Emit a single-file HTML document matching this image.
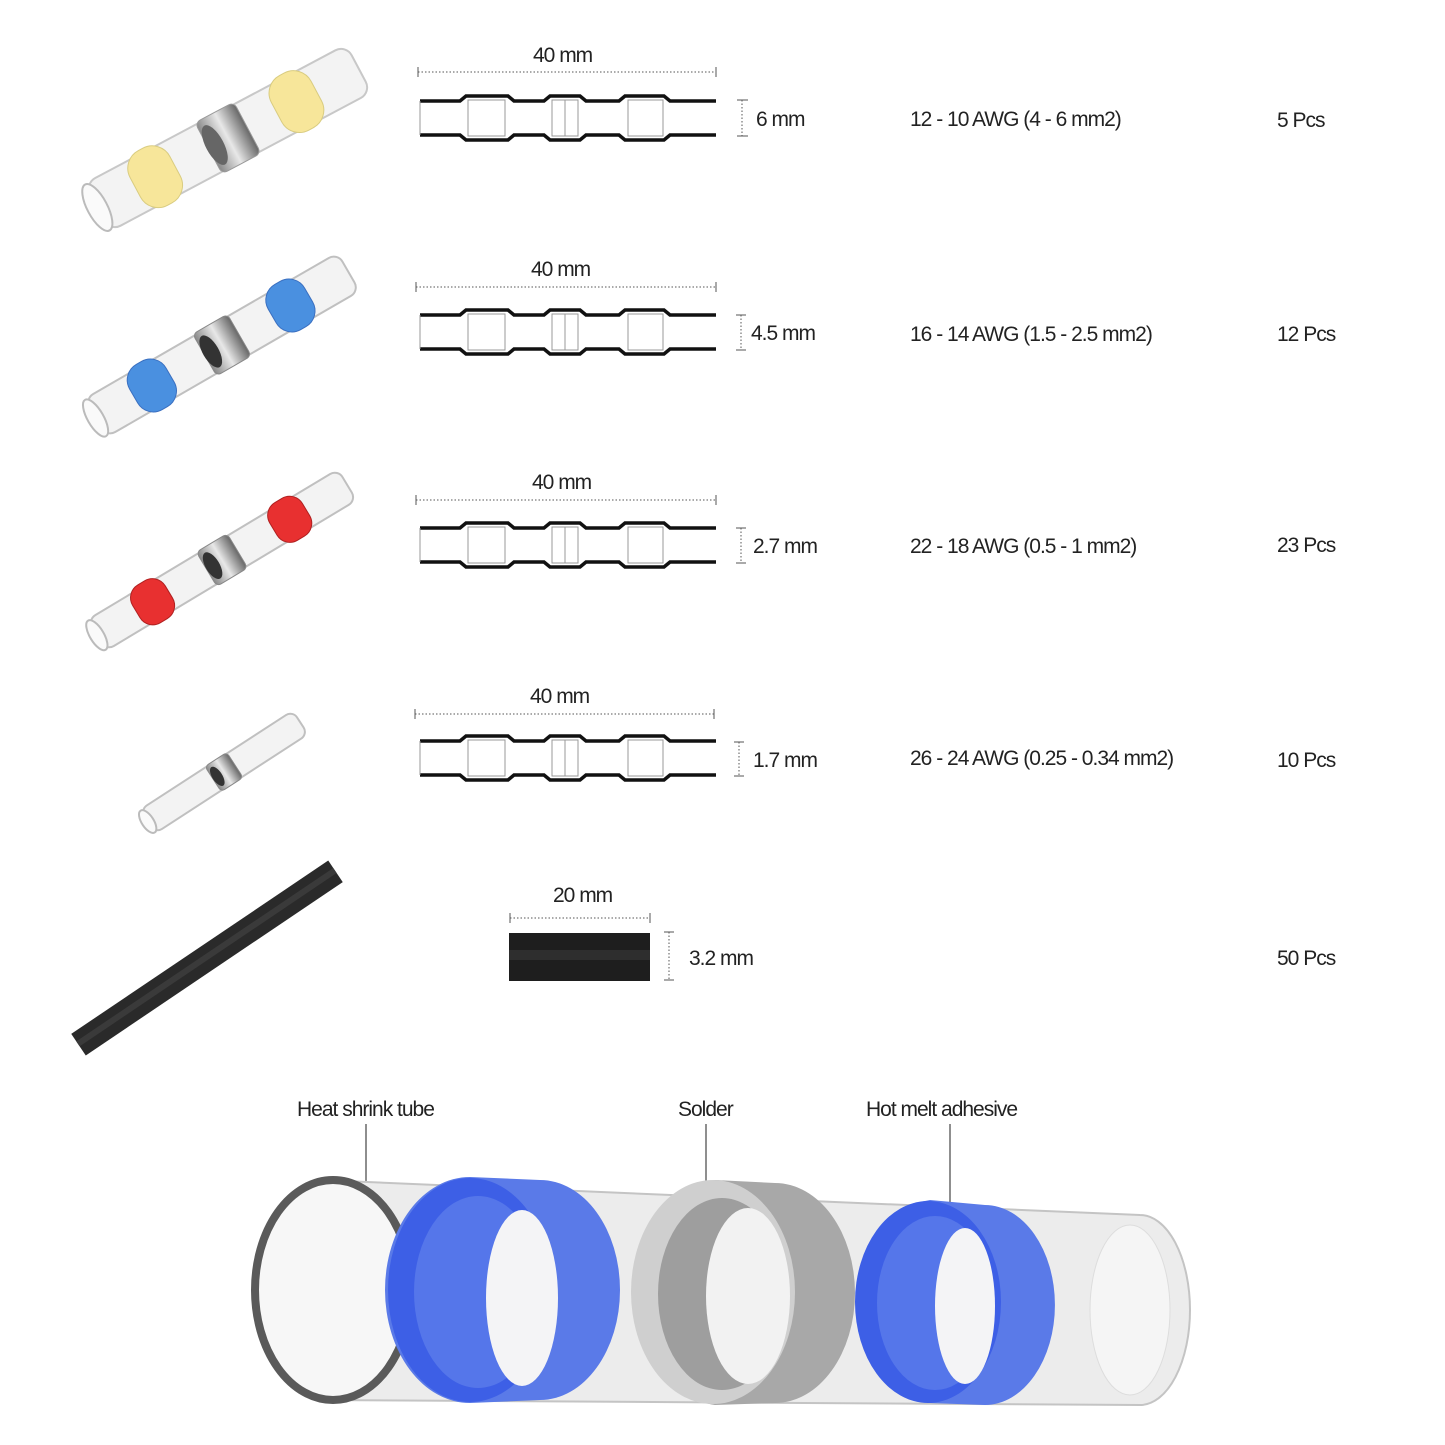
<!DOCTYPE html>
<html><head><meta charset="utf-8"><style>
html,body{margin:0;padding:0;background:#fff;}
svg{display:block;}
text{font-family:"Liberation Sans",sans-serif;font-size:21px;fill:#222;letter-spacing:-1px;}
</style></head><body>
<svg width="1445" height="1445" viewBox="0 0 1445 1445" xmlns="http://www.w3.org/2000/svg">
<defs>
<g id="diag">
 <path d="M0,-17 H40 L46,-22 H88 L94,-17 H124 L130,-22 H160 L166,-17 H199 L205,-22 H244 L250,-17 H296" fill="none" stroke="#111" stroke-width="3.5"/>
 <path d="M0,17 H40 L46,22 H88 L94,17 H124 L130,22 H160 L166,17 H199 L205,22 H244 L250,17 H296" fill="none" stroke="#111" stroke-width="3.5"/>
 <g fill="none" stroke="#999" stroke-width="1">
  <line x1="0" y1="-17" x2="0" y2="17"/>
  <rect x="48" y="-18" width="37" height="36"/>
  <rect x="132" y="-18" width="26" height="36"/>
  <line x1="145" y1="-18" x2="145" y2="18"/>
  <rect x="208" y="-18" width="35" height="36"/>
 </g>
</g>
<linearGradient id="sil" x1="0" y1="0" x2="1" y2="0"><stop offset="0" stop-color="#888"/><stop offset=".5" stop-color="#e8e8e8"/><stop offset="1" stop-color="#666"/></linearGradient>
</defs>

<!-- connector images -->
<g transform="translate(228,138) rotate(-28)">
 <rect x="-148" y="-27" width="296" height="54" rx="12" fill="#f3f3f3" stroke="#c8c8c8" stroke-width="2"/>
 <ellipse cx="-148" cy="0" rx="10" ry="26" fill="#fafafa" stroke="#bbb" stroke-width="2"/>
 <rect x="-105" y="-31" width="45" height="62" rx="20" fill="#f7e69a" stroke="#d9cc80"/>
 <rect x="55" y="-31" width="45" height="62" rx="20" fill="#f7e69a" stroke="#d9cc80"/>
 <rect x="-22" y="-29" width="44" height="58" rx="6" fill="url(#sil)" stroke="#999"/>
 <ellipse cx="-15" cy="0" rx="9" ry="22" fill="#666"/>
</g>
<g transform="translate(222,345) rotate(-30)">
 <rect x="-146" y="-22" width="292" height="44" rx="10" fill="#f3f3f3" stroke="#c0c0c0" stroke-width="2"/>
 <ellipse cx="-146" cy="0" rx="8" ry="21" fill="#fafafa" stroke="#bbb" stroke-width="2"/>
 <rect x="-102" y="-26" width="42" height="52" rx="18" fill="#4a90e0" stroke="#3a6fc0"/>
 <rect x="58" y="-26" width="42" height="52" rx="18" fill="#4a90e0" stroke="#3a6fc0"/>
 <rect x="-20" y="-24" width="40" height="48" rx="5" fill="url(#sil)" stroke="#888"/>
 <ellipse cx="-13" cy="0" rx="8" ry="18" fill="#333"/>
</g>
<g transform="translate(222,560) rotate(-31)">
 <rect x="-146" y="-18" width="292" height="36" rx="9" fill="#f3f3f3" stroke="#c0c0c0" stroke-width="2"/>
 <ellipse cx="-146" cy="0" rx="7" ry="17" fill="#fafafa" stroke="#bbb" stroke-width="2"/>
 <rect x="-100" y="-22" width="38" height="44" rx="15" fill="#e83030" stroke="#b02020"/>
 <rect x="60" y="-22" width="38" height="44" rx="15" fill="#e83030" stroke="#b02020"/>
 <rect x="-18" y="-20" width="36" height="40" rx="5" fill="url(#sil)" stroke="#888"/>
 <ellipse cx="-11" cy="0" rx="7" ry="15" fill="#333"/>
</g>
<g transform="translate(224,772) rotate(-33)">
 <rect x="-91" y="-14" width="182" height="28" rx="8" fill="#f3f3f3" stroke="#c0c0c0" stroke-width="2"/>
 <ellipse cx="-91" cy="0" rx="6" ry="13" fill="#fafafa" stroke="#bbb" stroke-width="2"/>
 <rect x="-13" y="-15" width="26" height="30" rx="4" fill="url(#sil)" stroke="#888"/>
 <ellipse cx="-8" cy="0" rx="5" ry="11" fill="#333"/>
</g>
<g transform="translate(207,958) rotate(-34)">
 <rect x="-155" y="-13" width="310" height="26" fill="#2a2a2a"/>
 <rect x="-155" y="-4" width="310" height="6" fill="#3a3a3a"/>
</g>

<!-- diagrams -->
<g transform="translate(420,118)"><use href="#diag"/></g>
<g transform="translate(420,332)"><use href="#diag"/></g>
<g transform="translate(420,545)"><use href="#diag"/></g>
<g transform="translate(420,758)"><use href="#diag"/></g>

<g stroke="#555" stroke-width="1">
 <line x1="418" y1="72" x2="716" y2="72" stroke-dasharray="1.5,2"/><line x1="418" y1="67" x2="418" y2="77"/><line x1="716" y1="67" x2="716" y2="77"/>
 <line x1="416" y1="287" x2="716" y2="287" stroke-dasharray="1.5,2"/><line x1="416" y1="282" x2="416" y2="292"/><line x1="716" y1="282" x2="716" y2="292"/>
 <line x1="416" y1="500" x2="716" y2="500" stroke-dasharray="1.5,2"/><line x1="416" y1="495" x2="416" y2="505"/><line x1="716" y1="495" x2="716" y2="505"/>
 <line x1="415" y1="714" x2="714" y2="714" stroke-dasharray="1.5,2"/><line x1="415" y1="709" x2="415" y2="719"/><line x1="714" y1="709" x2="714" y2="719"/>
 <line x1="510" y1="918" x2="650" y2="918" stroke-dasharray="1.5,2"/><line x1="510" y1="913" x2="510" y2="923"/><line x1="650" y1="913" x2="650" y2="923"/>
 <line x1="742" y1="100" x2="742" y2="136" stroke-dasharray="1.5,2"/><line x1="737" y1="100" x2="748" y2="100"/><line x1="737" y1="136" x2="748" y2="136"/>
 <line x1="741" y1="315" x2="741" y2="350" stroke-dasharray="1.5,2"/><line x1="736" y1="315" x2="746" y2="315"/><line x1="736" y1="350" x2="746" y2="350"/>
 <line x1="741" y1="528" x2="741" y2="563" stroke-dasharray="1.5,2"/><line x1="736" y1="528" x2="746" y2="528"/><line x1="736" y1="563" x2="746" y2="563"/>
 <line x1="739" y1="742" x2="739" y2="776" stroke-dasharray="1.5,2"/><line x1="734" y1="742" x2="744" y2="742"/><line x1="734" y1="776" x2="744" y2="776"/>
 <line x1="669" y1="932" x2="669" y2="980" stroke-dasharray="1.5,2"/><line x1="664" y1="932" x2="674" y2="932"/><line x1="664" y1="980" x2="674" y2="980"/>
</g>
<rect x="509" y="933" width="141" height="48" fill="#1e1e1e"/>
<rect x="509" y="950" width="141" height="10" fill="#2e2e2e"/>

<text x="533" y="62">40 mm</text>
<text x="531" y="276">40 mm</text>
<text x="532" y="489">40 mm</text>
<text x="530" y="703">40 mm</text>
<text x="553" y="902">20 mm</text>
<text x="756" y="126">6 mm</text>
<text x="751" y="340">4.5 mm</text>
<text x="753" y="553">2.7 mm</text>
<text x="753" y="767">1.7 mm</text>
<text x="689" y="965">3.2 mm</text>
<text x="910" y="126">12 - 10 AWG (4 - 6 mm2)</text>
<text x="910" y="341">16 - 14 AWG (1.5 - 2.5 mm2)</text>
<text x="910" y="553">22 - 18 AWG (0.5 - 1 mm2)</text>
<text x="910" y="765">26 - 24 AWG (0.25 - 0.34 mm2)</text>
<text x="1277" y="127">5 Pcs</text>
<text x="1277" y="341">12 Pcs</text>
<text x="1277" y="552">23 Pcs</text>
<text x="1277" y="767">10 Pcs</text>
<text x="1277" y="965">50 Pcs</text>

<!-- bottom assembly -->
<text x="297" y="1116">Heat shrink tube</text>
<text x="678" y="1116">Solder</text>
<text x="866" y="1116">Hot melt adhesive</text>
<g stroke="#444" stroke-width="1.2">
 <line x1="366" y1="1124" x2="366" y2="1185"/>
 <line x1="706" y1="1124" x2="706" y2="1188"/>
 <line x1="950" y1="1124" x2="950" y2="1210"/>
</g>
<path d="M320,1180 L1140,1215 A50,95 0 0 1 1140,1405 L320,1400 Z" fill="#ececec" stroke="#c4c4c4" stroke-width="2"/>
<ellipse cx="1130" cy="1310" rx="40" ry="85" fill="#f5f5f5" stroke="#ddd"/>
<ellipse cx="333" cy="1290" rx="78" ry="110" fill="#f7f7f7" stroke="#5a5a5a" stroke-width="8"/>
<!-- blue ring 1 -->
<path d="M470,1177 L540,1180 A80,110 0 0 1 540,1400 L470,1403 A85,113 0 0 1 470,1177 Z" fill="#5a7ae8"/>
<ellipse cx="470" cy="1290" rx="82" ry="112" fill="#3d5fe6"/>
<ellipse cx="478" cy="1292" rx="64" ry="96" fill="#5576ea"/>
<ellipse cx="522" cy="1298" rx="36" ry="88" fill="#f4f4f6"/>
<!-- solder ring -->
<path d="M715,1180 L775,1183 A80,110 0 0 1 775,1403 L715,1405 A85,113 0 0 1 715,1180 Z" fill="#a8a8a8"/>
<ellipse cx="713" cy="1292" rx="82" ry="112" fill="#cfcfcf"/>
<ellipse cx="722" cy="1294" rx="64" ry="96" fill="#9e9e9e"/>
<ellipse cx="748" cy="1296" rx="42" ry="88" fill="#f2f2f2"/>
<!-- blue ring 2 -->
<path d="M930,1200 L985,1205 A70,100 0 0 1 985,1405 L930,1403 A75,102 0 0 1 930,1200 Z" fill="#5a7ae8"/>
<ellipse cx="928" cy="1302" rx="73" ry="101" fill="#3d5fe6"/>
<ellipse cx="935" cy="1303" rx="58" ry="87" fill="#5576ea"/>
<ellipse cx="965" cy="1306" rx="30" ry="78" fill="#f4f4f6"/>
</svg>
</body></html>
